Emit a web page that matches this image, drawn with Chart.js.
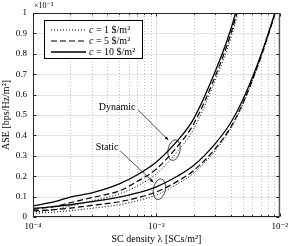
<!DOCTYPE html>
<html>
<head>
<meta charset="utf-8">
<script src="https://cdn.jsdelivr.net/npm/chart.js@4.4.1/dist/chart.umd.min.js"></script>
<style>
  html, body { margin: 0; padding: 0; background: #fff; }
  #wrap { width: 292px; height: 246px; }
</style>
</head>
<body>
<div id="wrap"><canvas id="ase-chart" width="292" height="246"></canvas></div>
<script>
// SC density lambda [SCs/m^2]
const lambda = [1e-4, 1.5e-4, 2e-4, 3e-4, 5e-4, 7e-4, 1e-3, 1.5e-3, 2e-3, 3e-3, 4e-3, 5e-3, 7e-3, 1e-2];

// ASE in units of 1e-3 bps/Hz/m^2
const dynC10 = [0.054, 0.075, 0.098, 0.118, 0.162, 0.207, 0.27, 0.378, 0.48, 0.714, 0.918, 1.128];
const dynC5  = [0.038, 0.052, 0.07, 0.095, 0.128, 0.175, 0.235, 0.35, 0.455, 0.69, 0.895, 1.105];
const dynC1  = [0.024, 0.036, 0.053, 0.079, 0.113, 0.152, 0.212, 0.325, 0.43, 0.67, 0.875, 1.09];
const staC10 = [0.042, 0.051, 0.06, 0.075, 0.097, 0.118, 0.148, 0.202, 0.252, 0.36, 0.462, 0.572, 0.79, 1.075];
const staC5  = [0.03, 0.036, 0.0435, 0.057, 0.0746, 0.094, 0.123, 0.177, 0.227, 0.335, 0.44, 0.555, 0.78, 1.07];
const staC1  = [0.018, 0.024, 0.031, 0.0427, 0.06, 0.0795, 0.108, 0.164, 0.215, 0.325, 0.433, 0.55, 0.778, 1.07];

const costLabels = ['1', '5', '10'];
const xTickLabels = ['10⁻⁴', '10⁻³', '10⁻²'];
const yTickValues = [0, 0.1, 0.2, 0.3, 0.4, 0.5, 0.6, 0.7, 0.8, 0.9, 1];
const yExponent = '×10⁻³';

// annotation anchors in data units: [lambda, ase]
const dynLabel = { text: 'Dynamic', at: [4.8e-4, 0.536], from: [7.1e-4, 0.525], to: [1.25e-3, 0.377], ring: [1.39e-3, 0.328] };
const staLabel = { text: 'Static', at: [3.98e-4, 0.34], from: [5.1e-4, 0.324], to: [9.46e-4, 0.17], ring: [1.057e-3, 0.136] };

const FONT = "'Liberation Serif', 'DejaVu Serif', serif";
const dashFor = { '1': [1, 2], '5': [6, 3], '10': [] };
const widthFor = { '1': 1, '5': 1.2, '10': 1.3 };

const toPoints = (vals) => vals.map((v, i) => ({ x: lambda[i], y: v }));

const makeSet = (label, vals, cost) => ({
    label: label,
    data: toPoints(vals),
    borderColor: '#000',
    borderWidth: widthFor[cost],
    borderDash: dashFor[cost],
    pointRadius: 0,
    fill: false,
    cubicInterpolationMode: 'monotone'
});

// x grid: 1..9 per decade
const xGridValues = [];
for (let e = -4; e < -2; e++) {
    for (let m = 1; m < 10; m++) xGridValues.push(m * Math.pow(10, e));
}
xGridValues.push(1e-2);
const isDecade = v => Math.abs(Math.log10(v) - Math.round(Math.log10(v))) < 1e-9;

const line = (ctx, x1, y1, x2, y2) => {
    ctx.beginPath();
    ctx.moveTo(x1, y1);
    ctx.lineTo(x2, y2);
    ctx.stroke();
};

const matlabFrame = {
    id: 'matlabFrame',
    beforeDatasetsDraw(chart) {
        const { ctx, chartArea: a, scales: { x, y } } = chart;
        ctx.save();
        ctx.lineWidth = 1;
        ctx.strokeStyle = '#e4e4e4';
        yTickValues.forEach(v => {
            const py = Math.round(y.getPixelForValue(v)) + 0.5;
            line(ctx, a.left, py, a.right, py);
        });
        xGridValues.forEach(v => {
            const px = Math.round(x.getPixelForValue(v)) + 0.5;
            if (isDecade(v)) {
                ctx.setLineDash([]);
                ctx.strokeStyle = '#e4e4e4';
            } else {
                ctx.setLineDash([1, 2]);
                ctx.strokeStyle = '#c4c4c4';
            }
            line(ctx, px, a.top, px, a.bottom);
        });
        ctx.restore();
    },
    afterDatasetsDraw(chart) {
        const { ctx, chartArea: a, scales: { x, y } } = chart;
        ctx.save();

        // annotations
        [dynLabel, staLabel].forEach(n => {
            const tx = x.getPixelForValue(n.at[0]), ty = y.getPixelForValue(n.at[1]);
            ctx.fillStyle = '#000';
            ctx.font = '10px ' + FONT;
            ctx.textAlign = 'center';
            ctx.textBaseline = 'middle';
            ctx.fillText(n.text, tx, ty);

            const x1 = x.getPixelForValue(n.from[0]), y1 = y.getPixelForValue(n.from[1]);
            const x2 = x.getPixelForValue(n.to[0]), y2 = y.getPixelForValue(n.to[1]);
            ctx.strokeStyle = '#000';
            ctx.lineWidth = 0.7;
            line(ctx, x1, y1, x2, y2);
            const ang = Math.atan2(y2 - y1, x2 - x1);
            ctx.beginPath();
            ctx.moveTo(x2, y2);
            ctx.lineTo(x2 - 4 * Math.cos(ang - 0.4), y2 - 4 * Math.sin(ang - 0.4));
            ctx.lineTo(x2 - 4 * Math.cos(ang + 0.4), y2 - 4 * Math.sin(ang + 0.4));
            ctx.closePath();
            ctx.fill();

            const cx = x.getPixelForValue(n.ring[0]), cy = y.getPixelForValue(n.ring[1]);
            ctx.lineWidth = 0.7;
            ctx.beginPath();
            ctx.ellipse(cx, cy, 6, 10.5, 0.2, 0, Math.PI * 2);
            ctx.stroke();
        });

        // axes box
        ctx.strokeStyle = '#262626';
        ctx.lineWidth = 1;
        ctx.setLineDash([]);
        const L = a.left + 0.5, R = a.right - 0.5, T = a.top + 0.5, B = a.bottom - 0.5;
        ctx.strokeRect(L, T, R - L, B - T);

        // inward ticks
        yTickValues.forEach(v => {
            const py = Math.round(y.getPixelForValue(v)) + 0.5;
            line(ctx, L, py, L + 3, py);
            line(ctx, R, py, R - 3, py);
        });
        xGridValues.forEach(v => {
            const px = Math.round(x.getPixelForValue(v)) + 0.5;
            const len = isDecade(v) ? 3 : 1.6;
            line(ctx, px, B, px, B - len);
            line(ctx, px, T, px, T + len);
        });

        // exponent label
        ctx.fillStyle = '#000';
        ctx.font = '8px ' + FONT;
        ctx.textAlign = 'left';
        ctx.textBaseline = 'middle';
        ctx.fillText(yExponent, a.left + 1, a.top - 7);

        // legend
        const lx = a.left + 11, ly = a.top + 7, lw = 98, lh = 38;
        ctx.fillStyle = '#fff';
        ctx.fillRect(lx, ly, lw, lh);
        ctx.strokeStyle = '#000';
        ctx.lineWidth = 1;
        ctx.strokeRect(lx + 0.5, ly + 0.5, lw, lh);
        costLabels.forEach((c, i) => {
            const ry = ly + 10 + i * 11;
            ctx.setLineDash(dashFor[c]);
            ctx.lineWidth = widthFor[c];
            line(ctx, lx + 7, ry, lx + 42, ry);
            ctx.setLineDash([]);
            ctx.fillStyle = '#000';
            ctx.textBaseline = 'middle';
            ctx.font = 'italic 10px ' + FONT;
            ctx.fillText('c', lx + 45, ry);
            const cw = ctx.measureText('c').width;
            ctx.font = '10px ' + FONT;
            ctx.fillText(' = ' + c + ' $/m²', lx + 45 + cw, ry);
        });
        ctx.restore();
    }
};

const ctx = document.getElementById('ase-chart').getContext('2d');
new Chart(ctx, {
    type: 'line',
    data: {
        datasets: [
            makeSet('Dynamic, c = 1', dynC1, '1'),
            makeSet('Dynamic, c = 5', dynC5, '5'),
            makeSet('Dynamic, c = 10', dynC10, '10'),
            makeSet('Static, c = 1', staC1, '1'),
            makeSet('Static, c = 5', staC5, '5'),
            makeSet('Static, c = 10', staC10, '10')
        ]
    },
    options: {
        responsive: false,
        animation: false,
        devicePixelRatio: 1,
        layout: { padding: { top: 13, right: 9, left: 0, bottom: 0 } },
        plugins: { legend: { display: false }, tooltip: { enabled: false } },
        scales: {
            x: {
                type: 'logarithmic',
                min: 1e-4,
                max: 1e-2,
                grid: { display: false, drawTicks: false },
                border: { display: false },
                afterBuildTicks: axis => {
                    axis.ticks = xGridValues.map(v => ({ value: v }));
                },
                afterFit: axis => { axis.height = 29; },
                ticks: {
                    autoSkip: false,
                    maxRotation: 0,
                    padding: 4,
                    color: '#000',
                    font: { family: FONT, size: 9 },
                    callback: (v) => isDecade(v) ? xTickLabels[Math.round(Math.log10(v)) + 4] : ''
                },
                title: {
                    display: true,
                    text: 'SC density λ [SCs/m²]',
                    color: '#000',
                    font: { family: FONT, size: 10 },
                    padding: { top: 0, bottom: 1 }
                }
            },
            y: {
                min: 0,
                max: 1,
                grid: { display: false, drawTicks: false },
                border: { display: false },
                afterBuildTicks: axis => {
                    axis.ticks = yTickValues.map(v => ({ value: v }));
                },
                afterFit: axis => { axis.width = 33; },
                ticks: {
                    padding: 6,
                    color: '#000',
                    font: { family: FONT, size: 9 },
                    callback: v => String(+v.toFixed(1))
                },
                title: {
                    display: true,
                    text: 'ASE [bps/Hz/m²]',
                    color: '#000',
                    font: { family: FONT, size: 10 },
                    padding: { top: 0, bottom: 0 }
                }
            }
        }
    },
    plugins: [matlabFrame]
});
</script>
</body>
</html>
